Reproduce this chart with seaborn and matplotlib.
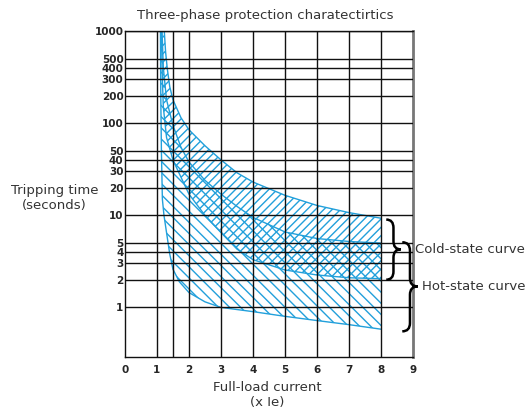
import numpy as np
import pandas as pd
import seaborn as sns
import matplotlib.pyplot as plt
from matplotlib.path import Path
from matplotlib.patches import PathPatch

sns.set_theme(style="white")
plt.rcParams["font.family"] = ["DejaVu Sans"]
plt.rcParams["hatch.linewidth"] = 1.0

blue = "#22a0db"

# cold-state curve, upper and lower limit (x Ie, seconds)
cold_hi_x = [1.21, 1.23, 1.27, 1.32, 1.4, 1.5, 1.75, 2.0, 2.5, 3.0, 3.5, 4.0, 5.0, 6.0, 7.0, 8.0]
cold_hi_t = [1100, 1000, 600, 400, 250, 180, 115, 85, 57, 40, 29, 23, 16.5, 12.8, 10.7, 9.3]
cold_lo_x = [1.135, 1.14, 1.17, 1.2, 1.3, 1.5, 1.75, 2.0, 2.5, 3.0, 3.5, 4.0, 5.0, 6.0, 7.0, 8.0]
cold_lo_t = [1100, 1000, 300, 150, 70, 40, 26, 17, 10, 6.5, 4.3, 3.3, 2.55, 2.25, 2.1, 2.05]

# hot-state curve, upper and lower limit
hot_hi_x = [1.155, 1.16, 1.2, 1.3, 1.5, 1.75, 2.0, 2.5, 3.0, 3.5, 4.0, 5.0, 6.0, 7.0, 8.0]
hot_hi_t = [1100, 1000, 400, 180, 95, 55, 38, 24, 17, 12.5, 9.5, 6.6, 5.6, 5.2, 5.0]
hot_lo_x = [1.105, 1.11, 1.12, 1.14, 1.17, 1.22, 1.3, 1.4, 1.5, 1.7, 2.0, 2.5, 3.0, 4.0, 5.0, 6.0, 7.0, 8.0]
hot_lo_t = [1100, 1000, 200, 50, 15, 10, 6.5, 3.8, 2.6, 1.9, 1.45, 1.15, 1.0, 0.9, 0.8, 0.72, 0.65, 0.58]

y_ticks = [1, 2, 3, 4, 5, 10, 20, 30, 40, 50, 100, 200, 300, 400, 500, 1000]
x_ticks = [0, 1, 2, 3, 4, 5, 6, 7, 8, 9]
x_lines = [1, 1.5, 2, 3, 4, 5, 6, 7, 8]

curves = pd.concat([
    pd.DataFrame({"x": cold_hi_x, "t": cold_hi_t, "curve": "cold_hi"}),
    pd.DataFrame({"x": cold_lo_x, "t": cold_lo_t, "curve": "cold_lo"}),
    pd.DataFrame({"x": hot_hi_x, "t": hot_hi_t, "curve": "hot_hi"}),
    pd.DataFrame({"x": hot_lo_x, "t": hot_lo_t, "curve": "hot_lo"}),
])


def brace(ax, x0, w, top, mid, bot, d=0.09):
    # curly brace "}" between top and bot (log-scale y), tip at mid
    lt, lm, lb = np.log10(top), np.log10(mid), np.log10(bot)
    xm, xt = x0 + w / 2, x0 + w
    pts = [(x0, lt), (xm, lt), (xm, lt - d),
           (xm, lm + d), (xm, lm), (xt, lm),
           (xm, lm), (xm, lm - d),
           (xm, lb + d), (xm, lb), (x0, lb)]
    codes = [Path.MOVETO, Path.CURVE3, Path.CURVE3,
             Path.LINETO, Path.CURVE3, Path.CURVE3,
             Path.CURVE3, Path.CURVE3,
             Path.LINETO, Path.CURVE3, Path.CURVE3]
    verts = [(px, 10 ** py) for px, py in pts]
    ax.add_patch(PathPatch(Path(verts, codes), facecolor="none", edgecolor="black",
                           linewidth=1.8, clip_on=False, zorder=5))


fig = plt.figure(figsize=(5.27, 4.16), dpi=100)
ax = fig.add_axes([0.237, 0.142, 0.547, 0.783])
ax.set_yscale("log")

# hatched bands
ax.fill(np.r_[cold_hi_x, cold_lo_x[::-1]], np.r_[cold_hi_t, cold_lo_t[::-1]],
        facecolor="none", edgecolor=blue, hatch="////", linewidth=0, zorder=2)
ax.fill(np.r_[hot_hi_x, hot_lo_x[::-1]], np.r_[hot_hi_t, hot_lo_t[::-1]],
        facecolor="none", edgecolor=blue, hatch="\\\\\\", linewidth=0, zorder=2)

sns.lineplot(data=curves, x="x", y="t", units="curve", estimator=None, sort=False,
             color=blue, linewidth=1.0, ax=ax, zorder=2.5)

# grid
for v in y_ticks:
    ax.axhline(v, color="#111111", linewidth=1.0, zorder=3)
for v in x_lines:
    ax.axvline(v, color="#111111", linewidth=1.0, zorder=3)

ax.set_xlim(0, 9)
ax.set_ylim(0.29, 1000)
ax.set_yticks(y_ticks)
ax.set_yticklabels([str(v) for v in y_ticks])
ax.minorticks_off()
ax.set_xticks(x_ticks)
ax.tick_params(axis="y", length=0, pad=1, labelsize=7.5)
ax.tick_params(axis="x", length=0, pad=6, labelsize=7.5)
for lab in ax.get_xticklabels() + ax.get_yticklabels():
    lab.set_fontweight("bold")
ax.set_xlabel("")
ax.set_ylabel("")

for s in ["left", "bottom", "top"]:
    ax.spines[s].set_color("#111111")
    ax.spines[s].set_linewidth(1.0)
ax.spines["right"].set_color("#777777")
ax.spines["right"].set_linewidth(2.0)

fig.text(0.503, 0.962, "Three-phase protection charatectirtics", ha="center", va="center",
         fontsize=9.5, color="#333333")
fig.text(0.103, 0.525, "Tripping time\n(seconds)", ha="center", va="center",
         fontsize=9.5, color="#333333", linespacing=1.2)
fig.text(0.507, 0.05, "Full-load current\n(x Ie)", ha="center", va="center",
         fontsize=9.5, color="#333333", linespacing=1.2)

# braces and their labels
brace(ax, 8.16, 0.45, 9.0, 4.27, 2.0)
brace(ax, 8.66, 0.48, 5.1, 1.69, 0.55)
ax.text(9.06, 4.27, "Cold-state curve", ha="left", va="center", fontsize=9.5, color="#333333")
ax.text(9.28, 1.69, "Hot-state curve", ha="left", va="center", fontsize=9.5, color="#333333")

fig.savefig("out.png", dpi=100)
